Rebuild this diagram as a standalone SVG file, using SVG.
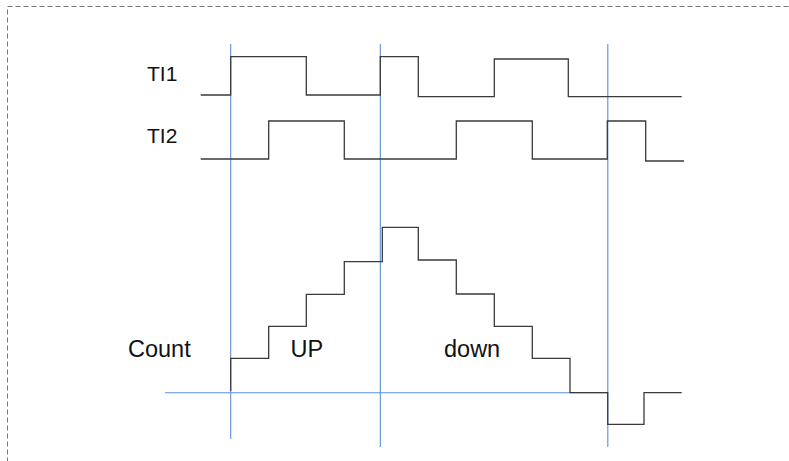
<svg xmlns="http://www.w3.org/2000/svg" width="789" height="461" viewBox="0 0 789 461">
<style>
.sig{fill:none;stroke:#3a3a3a;stroke-width:1.3}
.grid{fill:none;stroke:#5b8fdc;stroke-width:1.1}
.lbl{font-family:"Liberation Sans",Arial,sans-serif;fill:#111}
.big{font-size:23.5px}
.sm{font-size:21px}
</style>
<rect x="7.5" y="6.5" width="800" height="480" fill="#fff" stroke="#777" stroke-width="1" stroke-dasharray="5,3"/>
<g id="guides">
<line class="grid" x1="230.7" y1="44" x2="230.7" y2="439"/>
<line class="grid" x1="380.3" y1="44" x2="380.3" y2="447"/>
<line class="grid" x1="607.8" y1="44" x2="607.8" y2="447"/>
<line class="grid" x1="165" y1="392.7" x2="608" y2="392.7"/>
</g>
<g id="TI1">
<text class="lbl sm" x="147" y="80.7">TI1</text>
<path class="sig" d="M200.7 95H230.7V56.7H306.3V95H380.3V56.7H418.3V96.7H494.3V59H568.3V96.7H681.7"/>
</g>
<g id="TI2">
<text class="lbl sm" x="147" y="143">TI2</text>
<path class="sig" d="M200.7 159H268.7V121H344.3V159H456.3V121H532.3V159H607.3V121H645.7V161H684"/>
</g>
<g id="Count">
<text class="lbl big" x="128" y="356.7">Count</text>
<path class="sig" d="M230.7 391V358.3H268.7V326.3H306.3V294.3H344.3V261.7H382.3V227.3H418.3V260H456.3V294H494.3V326.3H532.3V358.3H570V392.7H607.7V424.3H644V392.7H681.7"/>
</g>
<g id="UP">
<text class="lbl big" x="290.5" y="356.7">UP</text>
</g>
<g id="down">
<text class="lbl big" x="444" y="356.7">down</text>
</g>
</svg>
